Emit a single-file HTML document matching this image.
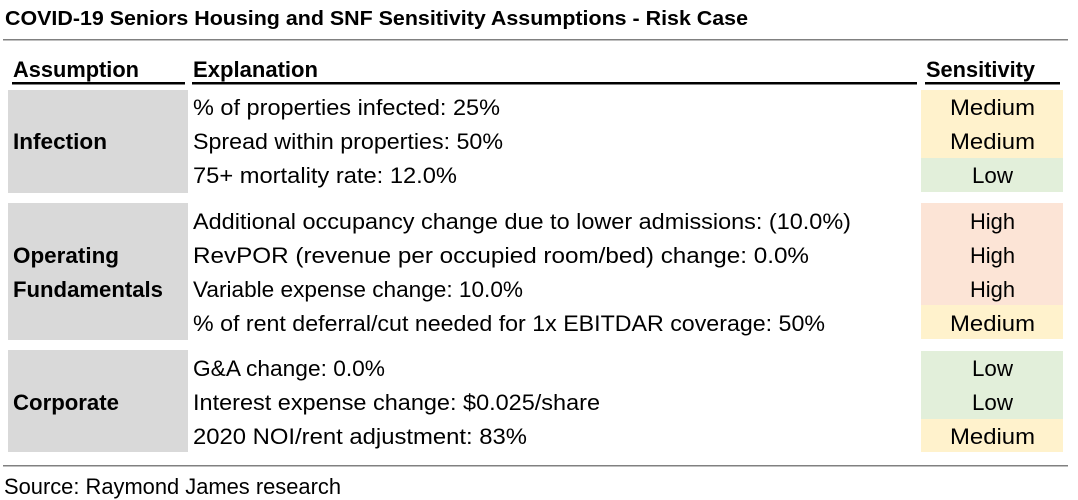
<!DOCTYPE html>
<html><head><meta charset="utf-8"><style>
html,body{margin:0;padding:0;background:#fff;}
svg{display:block;}
text{font-family:"Liberation Sans",Arial,sans-serif;fill:#000;}
.b{font-weight:bold;}
</style></head><body>
<svg width="1078" height="500" viewBox="0 0 1078 500" xmlns="http://www.w3.org/2000/svg">
<text x="5" y="25" class="b" font-size="20" textLength="743" lengthAdjust="spacingAndGlyphs">COVID-19 Seniors Housing and SNF Sensitivity Assumptions - Risk Case</text>
<rect x="3" y="39" width="1065" height="1.5" fill="#808080"/>
<g font-size="22">
<text x="13" y="77" class="b" textLength="126" lengthAdjust="spacingAndGlyphs">Assumption</text>
<text x="193" y="77" class="b" textLength="125" lengthAdjust="spacingAndGlyphs">Explanation</text>
<text x="926" y="77" class="b" textLength="109" lengthAdjust="spacingAndGlyphs">Sensitivity</text>
</g>
<rect x="12" y="82" width="173" height="2.5" fill="#000"/>
<rect x="192" y="82" width="725" height="2.5" fill="#000"/>
<rect x="925" y="82" width="135" height="2.5" fill="#000"/>

<rect x="8" y="90" width="180" height="103" fill="#d9d9d9"/>
<rect x="8" y="203" width="180" height="137" fill="#d9d9d9"/>
<rect x="8" y="350" width="180" height="102" fill="#d9d9d9"/>

<rect x="921" y="90" width="142" height="68" fill="#fff2cc"/>
<rect x="921" y="158" width="142" height="34" fill="#e2efda"/>
<rect x="921" y="203" width="142" height="102" fill="#fce4d6"/>
<rect x="921" y="305" width="142" height="34" fill="#fff2cc"/>
<rect x="921" y="351" width="142" height="68" fill="#e2efda"/>
<rect x="921" y="419" width="142" height="33" fill="#fff2cc"/>

<g font-size="22">
<text x="13" y="149" class="b" textLength="94" lengthAdjust="spacingAndGlyphs">Infection</text>
<text x="13" y="263" class="b" textLength="106" lengthAdjust="spacingAndGlyphs">Operating</text>
<text x="13" y="297" class="b" textLength="150" lengthAdjust="spacingAndGlyphs">Fundamentals</text>
<text x="13" y="410" class="b" textLength="106" lengthAdjust="spacingAndGlyphs">Corporate</text>
</g>
<g font-size="22">
<text x="193" y="115" textLength="307" lengthAdjust="spacingAndGlyphs">% of properties infected: 25%</text>
<text x="193" y="149" textLength="310" lengthAdjust="spacingAndGlyphs">Spread within properties: 50%</text>
<text x="193" y="183" textLength="264" lengthAdjust="spacingAndGlyphs">75+ mortality rate: 12.0%</text>
<text x="193" y="229" textLength="658" lengthAdjust="spacingAndGlyphs">Additional occupancy change due to lower admissions: (10.0%)</text>
<text x="193" y="263" textLength="616" lengthAdjust="spacingAndGlyphs">RevPOR (revenue per occupied room/bed) change: 0.0%</text>
<text x="193" y="297" textLength="330" lengthAdjust="spacingAndGlyphs">Variable expense change: 10.0%</text>
<text x="193" y="331" textLength="632" lengthAdjust="spacingAndGlyphs">% of rent deferral/cut needed for 1x EBITDAR coverage: 50%</text>
<text x="193" y="376" textLength="192" lengthAdjust="spacingAndGlyphs">G&amp;A change: 0.0%</text>
<text x="193" y="410" textLength="407" lengthAdjust="spacingAndGlyphs">Interest expense change: $0.025/share</text>
<text x="193" y="444" textLength="334" lengthAdjust="spacingAndGlyphs">2020 NOI/rent adjustment: 83%</text>
</g>
<g font-size="22">
<text x="950" y="115" textLength="85" lengthAdjust="spacingAndGlyphs">Medium</text>
<text x="950" y="149" textLength="85" lengthAdjust="spacingAndGlyphs">Medium</text>
<text x="972" y="183" textLength="41" lengthAdjust="spacingAndGlyphs">Low</text>
<text x="970" y="229" textLength="45" lengthAdjust="spacingAndGlyphs">High</text>
<text x="970" y="263" textLength="45" lengthAdjust="spacingAndGlyphs">High</text>
<text x="970" y="297" textLength="45" lengthAdjust="spacingAndGlyphs">High</text>
<text x="950" y="331" textLength="85" lengthAdjust="spacingAndGlyphs">Medium</text>
<text x="972" y="376" textLength="41" lengthAdjust="spacingAndGlyphs">Low</text>
<text x="972" y="410" textLength="41" lengthAdjust="spacingAndGlyphs">Low</text>
<text x="950" y="444" textLength="85" lengthAdjust="spacingAndGlyphs">Medium</text>
</g>
<rect x="3" y="465" width="1065" height="1.5" fill="#808080"/>
<text x="4" y="494" font-size="22" textLength="337" lengthAdjust="spacingAndGlyphs">Source: Raymond James research</text>
</svg>
</body></html>
